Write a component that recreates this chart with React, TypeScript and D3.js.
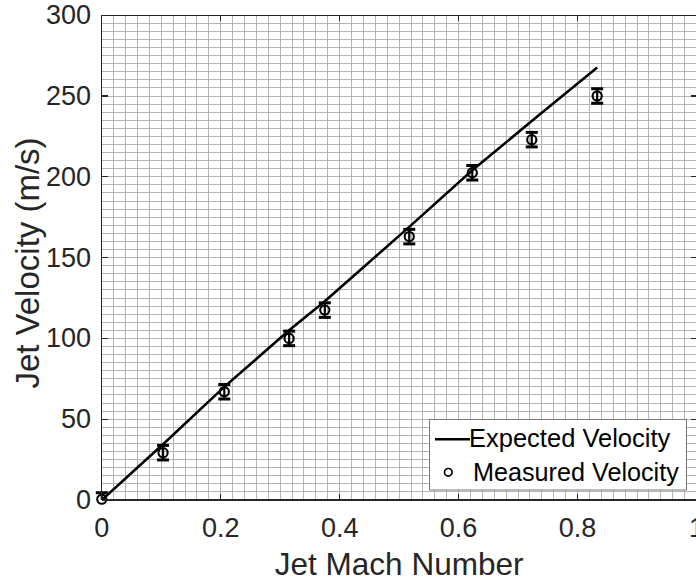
import React from "react";
import * as d3 from "d3";

const machNumbers = [0, 0.103, 0.206, 0.315, 0.375, 0.517, 0.623, 0.723, 0.833];
const measuredVelocity = [0.5, 29.3, 67, 100, 117.5, 163, 202.5, 223, 250];
const measuredError = [4, 4.5, 4.5, 4.5, 4.5, 4.5, 4.5, 4.5, 4.5];
const expectedVelocity = [0, 34.5, 70, 105, 123, 169, 204, 234.5, 267.6];
const xTicks = [0, 0.2, 0.4, 0.6, 0.8, 1];
const yTicks = [0, 50, 100, 150, 200, 250, 300];
const xMinorStep = 0.02;
const yMinorStep = 5;
const legendLabels = ["Expected Velocity", "Measured Velocity"];

const W = 696;
const H = 581;
const left = 101.8;
const right = 696.5;
const top = 15.2;
const bottom = 500;
const FONT = "'Liberation Sans', Arial, Helvetica, sans-serif";
const AX = "#262626";

export default function App() {
  const x = d3.scaleLinear().domain([0, 1]).range([left, right]);
  const y = d3.scaleLinear().domain([0, 300]).range([bottom, top]);

  const xMinor = d3.range(0, 1 + 1e-9, xMinorStep);
  const yMinor = d3.range(0, 300 + 1e-9, yMinorStep);

  const line = d3
    .line<number>()
    .x((_, i) => x(machNumbers[i]))
    .y((d) => y(d));

  const capW = 6;

  return (
    <svg
      width={W}
      height={H}
      style={{ position: "absolute", left: 0, top: 0, background: "#fff" }}
      fontFamily={FONT}
    >
      <rect x={0} y={0} width={W} height={H} fill="#fff" />
      <defs>
        <clipPath id="plot">
          <rect x={left} y={top} width={right - left} height={bottom - top} />
        </clipPath>
      </defs>
      {/* grid */}
      <g stroke="#b4b4b4" strokeWidth={1} shapeRendering="crispEdges">
        {xMinor.map((v, i) => (
          <line key={"gx" + i} x1={x(v)} x2={x(v)} y1={top} y2={bottom} />
        ))}
        {yMinor.map((v, i) => (
          <line key={"gy" + i} x1={left} x2={right} y1={y(v)} y2={y(v)} />
        ))}
      </g>
      {/* expected line */}
      <path
        d={line(expectedVelocity) || ""}
        fill="none"
        stroke="#000"
        strokeWidth={2.6}
        clipPath="url(#plot)"
      />
      {/* measured with error bars */}
      <g stroke="#000" fill="none">
        {machNumbers.map((m, i) => {
          const cx = x(m);
          const v = measuredVelocity[i];
          const e = measuredError[i];
          const yt = y(v + e);
          const yb = Math.min(y(v - e), bottom);
          return (
            <g key={"p" + i}>
              <line x1={cx} x2={cx} y1={yt} y2={yb} strokeWidth={2.2} />
              <line x1={cx - capW} x2={cx + capW} y1={yt} y2={yt} strokeWidth={3} />
              {y(v - e) <= bottom && (
                <line x1={cx - capW} x2={cx + capW} y1={yb} y2={yb} strokeWidth={3} />
              )}
              <circle cx={cx} cy={y(v)} r={4.6} strokeWidth={2.1} fill="none" />
            </g>
          );
        })}
      </g>
      {/* axes box */}
      <g stroke={AX} strokeWidth={1.2} fill="none" shapeRendering="crispEdges">
        <line x1={left} x2={right} y1={bottom} y2={bottom} />
        <line x1={left} x2={right} y1={top} y2={top} />
        <line x1={left} x2={left} y1={top} y2={bottom} />
        <line x1={right} x2={right} y1={top} y2={bottom} />
        {xTicks.map((t, i) => (
          <g key={"xt" + i}>
            <line x1={x(t)} x2={x(t)} y1={bottom} y2={bottom - 6} />
            <line x1={x(t)} x2={x(t)} y1={top} y2={top + 6} />
          </g>
        ))}
        {yTicks.map((t, i) => (
          <g key={"yt" + i}>
            <line x1={left} x2={left + 6} y1={y(t)} y2={y(t)} />
            <line x1={right} x2={right - 6} y1={y(t)} y2={y(t)} />
          </g>
        ))}
      </g>
      {/* tick labels */}
      <g fill={AX} fontSize={27}>
        {xTicks.map((t, i) => (
          <text key={"xl" + i} x={x(t)} y={537} textAnchor="middle">
            {d3.format("~g")(t)}
          </text>
        ))}
        {yTicks.map((t, i) => (
          <text
            key={"yl" + i}
            x={91}
            y={y(t)}
            textAnchor="end"
            dominantBaseline="central"
          >
            {t}
          </text>
        ))}
      </g>
      {/* axis labels */}
      <text
        x={(left + right) / 2}
        y={575}
        fontSize={31.5}
        fill={AX}
        textAnchor="middle"
      >
        Jet Mach Number
      </text>
      <text
        transform={`translate(39, 263) rotate(-90)`}
        fontSize={33}
        fill={AX}
        textAnchor="middle"
      >
        Jet Velocity (m/s)
      </text>
      {/* legend */}
      <g>
        <rect x={429.5} y={419.5} width={257} height={70.5} fill="#fff" stroke="#7a7a7a" strokeWidth={1} />
        <line x1={435} x2={470} y1={439.3} y2={439.3} stroke="#000" strokeWidth={2.6} />
        <text x={469} y={447.3} fontSize={25.5} fill="#000">
          {legendLabels[0]}
        </text>
        <circle cx={448.3} cy={472.3} r={3.8} fill="none" stroke="#000" strokeWidth={1.7} />
        <text x={473} y={481.3} fontSize={25.2} fill="#000">
          {legendLabels[1]}
        </text>
      </g>
    </svg>
  );
}
